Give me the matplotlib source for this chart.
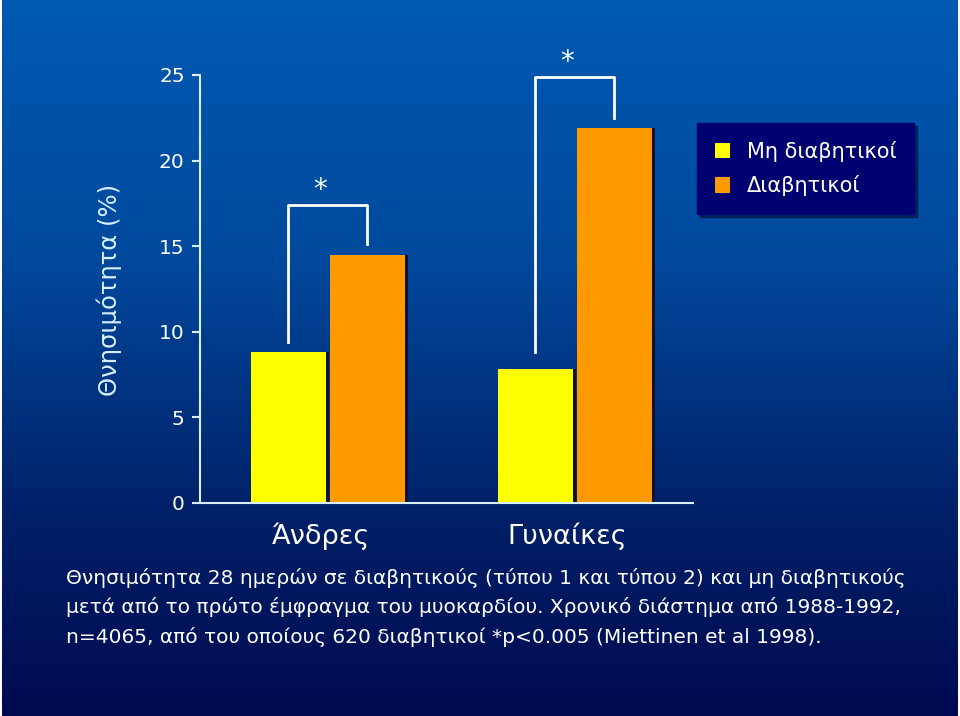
import matplotlib.pyplot as plt
import numpy as np
from matplotlib.colors import LinearSegmentedColormap

# data
groups = ['Άνδρες', 'Γυναίκες']
series = ['Μη διαβητικοί', 'Διαβητικοί']
non_diab = [8.8, 7.8]
diab = [14.5, 21.9]
bracket_top = [17.4, 24.9]
bracket_left_end = [9.4, 8.8]
bracket_right_end = [15.1, 22.5]
yticks = [0, 5, 10, 15, 20, 25]
caption = ['Θνησιμότητα 28 ημερών σε διαβητικούς (τύπου 1 και τύπου 2) και μη διαβητικούς',
           'μετά από το πρώτο έμφραγμα του μυοκαρδίου. Χρονικό διάστημα από 1988-1992,',
           'n=4065, από του οποίους 620 διαβητικοί *p<0.005 (Miettinen et al 1998).']

plt.rcParams['font.family'] = ['DejaVu Sans']
W, H = 960, 716
fig = plt.figure(figsize=(W / 100, H / 100), dpi=100)
fig.patch.set_facecolor('white')

# background gradient
bg = fig.add_axes([2 / W, 0, (W - 4) / W, 1])
cmap = LinearSegmentedColormap.from_list('bg', [(0, '#0059b2'), (0.35, '#004a9e'),
                                                (0.7, '#00226a'), (1, '#000a50')])
grad = np.linspace(0, 1, 256).reshape(-1, 1)
bg.imshow(grad, aspect='auto', cmap=cmap, extent=[0, 1, 1, 0])
bg.set_axis_off()

ax = fig.add_axes([200 / W, 1 - 503 / H, 493 / W, 428 / H])
ax.set_facecolor('none')
ax.set_ylim(0, 25)
ax.set_xlim(-0.518, 1.478)

w = 0.304
gap = 0.016
x = np.arange(len(groups))
xl = x - w / 2 - gap / 2
xr = x + w / 2 + gap / 2
# shadows
ax.bar(xl + 0.012, non_diab, w, color='#101030', zorder=1)
ax.bar(xr + 0.012, diab, w, color='#101030', zorder=1)
ax.bar(xl, non_diab, w, color='#ffff00', zorder=2, label=series[0])
ax.bar(xr, diab, w, color='#ff9900', zorder=2, label=series[1])

for i in range(len(groups)):
    ax.plot([xl[i], xl[i], xr[i], xr[i]],
            [bracket_left_end[i], bracket_top[i], bracket_top[i], bracket_right_end[i]],
            color='white', lw=2, zorder=3, clip_on=False)
    ax.text(x[i] - 0.03, bracket_top[i] + 0.05, '*', color='white', fontsize=20,
            ha='center', va='bottom', clip_on=False)

for s in ['top', 'right']:
    ax.spines[s].set_visible(False)
for s in ['left', 'bottom']:
    ax.spines[s].set_color('#d8f0ff')
    ax.spines[s].set_linewidth(1.5)
ax.set_yticks(yticks)
ax.set_yticklabels([str(t) for t in yticks])
ax.tick_params(axis='y', colors='#d8f0ff', labelcolor='white', labelsize=14.5,
               length=6, width=1.5, pad=5)
ax.set_xticks(x - 0.03)
ax.set_xticklabels(groups)
ax.tick_params(axis='x', length=0, labelcolor='white', labelsize=19.5, pad=14)
ax.set_ylabel('Θνησιμότητα (%)', color='#d8f0ff', fontsize=17.5, labelpad=14)
ax.yaxis.set_label_coords(-78 / 493, (503 - 290) / 428)

# legend
leg = ax.legend(loc='upper left', bbox_to_anchor=((697 - 200) / 493, 1 - (123 - 75) / 428),
                frameon=True, fontsize=15, handlelength=0.75, handleheight=0.75,
                handletextpad=0.8, borderpad=0.85, labelspacing=0.65, fancybox=False,
                shadow=True, borderaxespad=0)
leg.get_frame().set_facecolor('#000070')
leg.get_frame().set_edgecolor('#000070')
leg.get_frame().set_alpha(1)
for t in leg.get_texts():
    t.set_color('white')

ys = [578, 607, 637]
for line, yy in zip(caption, ys):
    fig.text(66 / W, 1 - yy / H, line, color='white', fontsize=14.5, va='center', ha='left')

fig.savefig('out.png', dpi=100, facecolor=fig.get_facecolor())
